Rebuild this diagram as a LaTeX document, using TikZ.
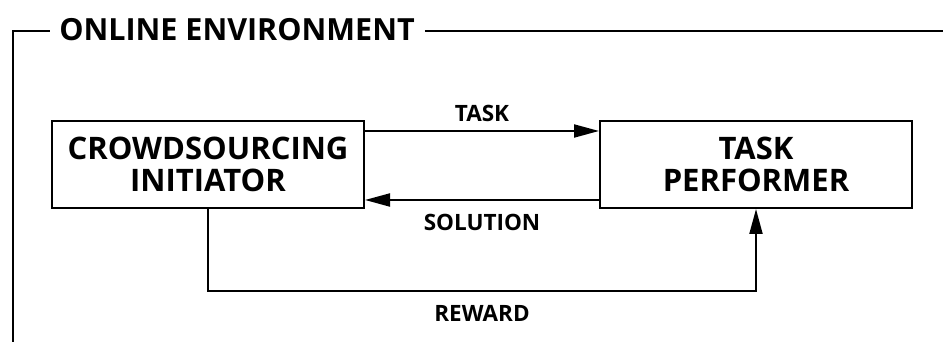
\documentclass[tikz,border=0pt]{standalone}
\usepackage{fontspec}
\setmainfont{Open Sans}
\usetikzlibrary{arrows.meta,calc}
\begin{document}
\begin{tikzpicture}[x=1pt,y=1pt,
  line width=2pt,
  box/.style={draw,minimum width=312pt,minimum height=87pt,inner sep=0pt,
    align=center,font=\fontsize{31}{31.5}\selectfont\bfseries},
  lbl/.style={font=\fontsize{22.5}{22.5}\selectfont\bfseries,inner sep=0pt},
  ttl/.style={font=\fontsize{30.5}{30.5}\selectfont\bfseries,inner sep=0pt},
  arr/.style={-{Triangle[length=25pt,width=13pt]}}]
\useasboundingbox (0,0) rectangle (943,342);
% environment frame with title
\node[ttl] (env) at (237,312) {ONLINE ENVIRONMENT};
\coordinate (fc) at (13,311);
\coordinate (fb) at (13,0);
\coordinate (fr) at (943,311);
\draw (fb) -- (fc) -- ([xshift=-8pt]env.west |- fc);
\draw ([xshift=9pt]env.east |- fr) -- (fr);
% actors
\node[box] (ci) at (208,177.5) {CROWDSOURCING\\INITIATOR};
\node[box] (tp) at (756,177.5) {TASK\\PERFORMER};
% exchanges
\draw[arr] ($(ci.north east)+(0,-11)$) -- ($(tp.north west)+(0,-11)$);
\draw[arr] ($(tp.south west)+(0,9)$) -- ($(ci.south east)+(0,9)$);
\draw[arr] (ci.south) -- ++(0,-82) -| (tp.south);
\node[lbl] (task) at (482,229) {TASK};
\node[lbl] (sol) at (482,120) {SOLUTION};
\node[lbl] (rew) at (482,29) {REWARD};
\end{tikzpicture}
\end{document}
